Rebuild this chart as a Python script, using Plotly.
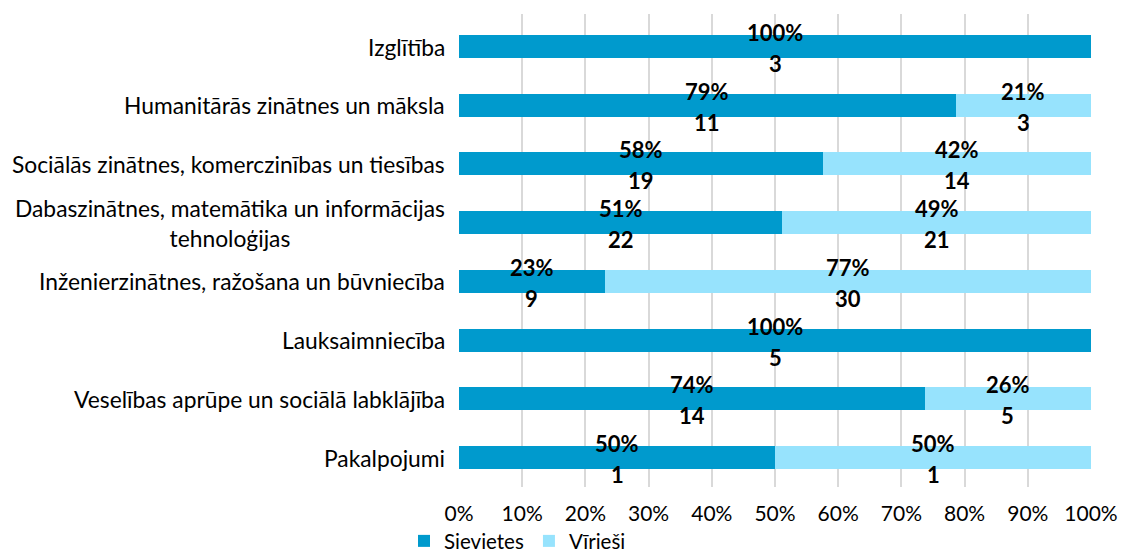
import plotly.graph_objects as go

# Field groups, listed top to bottom
categories = [
    "Izglītība",
    "Humanitārās zinātnes un māksla",
    "Sociālās zinātnes, komerczinības un tiesības",
    "Dabaszinātnes, matemātika un informācijas<br>tehnoloģijas",
    "Inženierzinātnes, ražošana un būvniecība",
    "Lauksaimniecība",
    "Veselības aprūpe un sociālā labklājība",
    "Pakalpojumi",
]
women = [3, 11, 19, 22, 9, 5, 14, 1]
men = [0, 3, 14, 21, 30, 0, 5, 1]
series_names = ["Sievietes", "Vīrieši"]
series_colors = ["#009ACD", "#97E3FD"]

totals = [w + m for w, m in zip(women, men)]
share_w = [w / t for w, t in zip(women, totals)]
share_m = [m / t for m, t in zip(men, totals)]

FONT = "Lato"

fig = go.Figure()
for name, shares, color in zip(series_names, [share_w, share_m], series_colors):
    fig.add_trace(go.Bar(
        y=categories, x=shares, name=name, orientation="h",
        marker=dict(color=color, line=dict(width=0)),
        hoverinfo="skip",
    ))

# Two-line value labels (share and count) centred on each segment
annotations = []
for i, cat in enumerate(categories):
    start = 0.0
    for counts, shares in ((women, share_w), (men, share_m)):
        c, s = counts[i], shares[i]
        if c > 0:
            mid = start + s / 2
            for txt, dy in ((f"{round(s * 100)}%", 14), (str(c), -17)):
                annotations.append(dict(
                    x=mid, y=cat, xref="x", yref="y", text=txt, showarrow=False,
                    yshift=dy, font=dict(family=FONT, size=22, color="black", weight="bold"),
                ))
        start += s

# Category names, centred line by line and right-aligned against the axis
for cat in categories:
    annotations.append(dict(
        x=0, y=cat, xref="paper", yref="y", text=cat, showarrow=False,
        xanchor="right", align="center", xshift=-12,
        font=dict(family=FONT, size=22.8, color="black"),
    ))

fig.update_layout(
    barmode="stack",
    bargap=0.61,
    width=1121, height=554,
    margin=dict(l=459, r=30, t=14, b=67, autoexpand=False),
    paper_bgcolor="white", plot_bgcolor="white",
    font=dict(family=FONT, size=21, color="black"),
    annotations=annotations,
    showlegend=True,
    legend=dict(
        orientation="h", x=-0.087, xanchor="left", y=-0.072, yanchor="top",
        font=dict(family=FONT, size=20.5, color="black"),
        traceorder="normal", itemclick=False, bgcolor="rgba(0,0,0,0)",
    ),
    xaxis=dict(
        range=[0, 1], dtick=0.1, tickformat=".0%", showgrid=True,
        gridcolor="#D9D9D9", gridwidth=1.5, zeroline=False, showline=False,
        ticks="", ticklabelstandoff=12, tickfont=dict(family=FONT, size=21),
        automargin=False,
    ),
    yaxis=dict(
        autorange="reversed", showticklabels=False, showgrid=False,
        zeroline=False, showline=False, ticks="", automargin=False,
    ),
)

fig.write_html("out.html")
